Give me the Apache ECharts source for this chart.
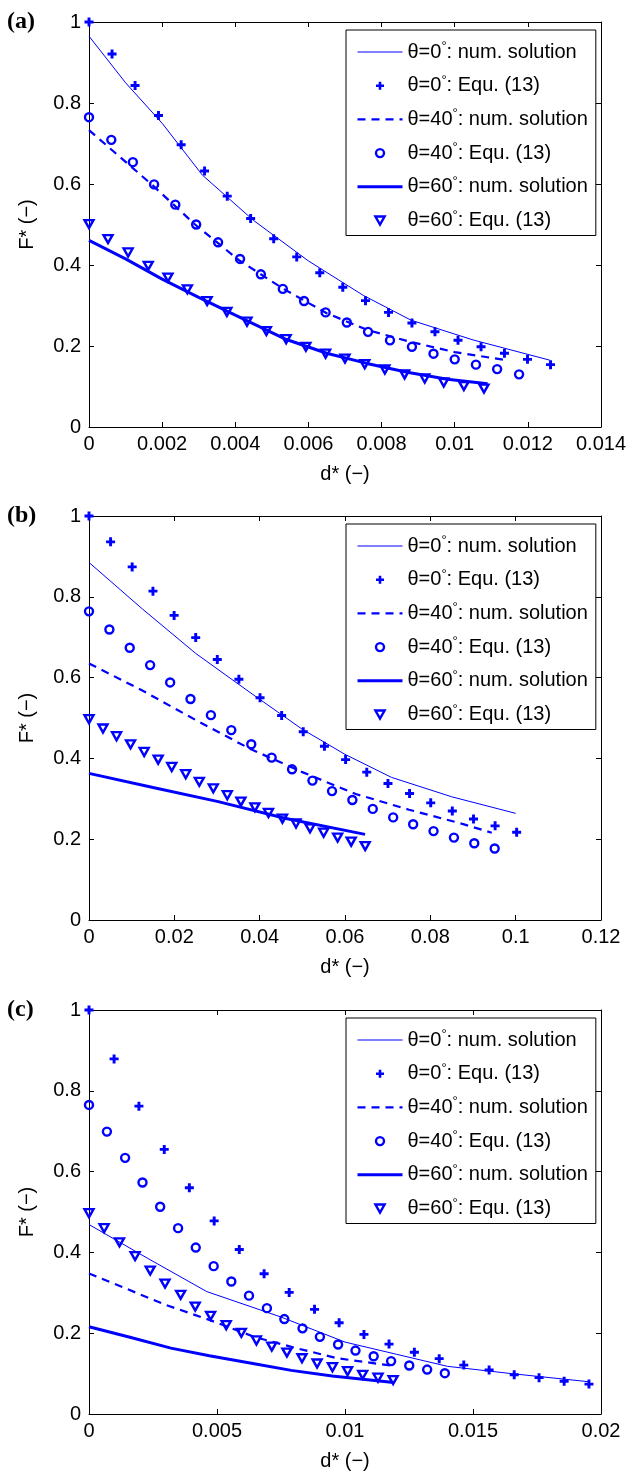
<!DOCTYPE html>
<html>
<head>
<meta charset="utf-8">
<script src="https://cdn.jsdelivr.net/npm/echarts@6/dist/echarts.min.js"></script>
<style>
  html, body { margin: 0; padding: 0; background: #fff; }
  #chart { width: 628px; height: 1475px; }
</style>
</head>
<body>
<div id="chart"></div>
<script>
// ---- tick labels ----
const xTicksA = ['0', '0.002', '0.004', '0.006', '0.008', '0.01', '0.012', '0.014'];
const xTicksB = ['0', '0.02', '0.04', '0.06', '0.08', '0.1', '0.12'];
const xTicksC = ['0', '0.005', '0.01', '0.015', '0.02'];
const yTicks = ['0', '0.2', '0.4', '0.6', '0.8', '1'];

// ---- legend entries ----
const seriesNames = [
  'θ=0°: num. solution', 'θ=0°: Equ. (13)',
  'θ=40°: num. solution', 'θ=40°: Equ. (13)',
  'θ=60°: num. solution', 'θ=60°: Equ. (13)'
];

// ---- panel (a) ----
const aNum0D = [0, 0.001, 0.002, 0.0031, 0.0045, 0.006, 0.0075, 0.0088, 0.0105, 0.0126];
const aNum0F = [0.965, 0.85, 0.75, 0.622, 0.51, 0.41, 0.325, 0.264, 0.215, 0.165];
const aEq0D = [0, 0.00063, 0.00126, 0.0019, 0.00252, 0.00316, 0.00378, 0.00442, 0.00505, 0.00568, 0.00631, 0.00694, 0.00756, 0.00819, 0.00883, 0.00946, 0.01009, 0.01072, 0.01136, 0.01199, 0.01262];
const aEq0F = [1.0, 0.921, 0.843, 0.769, 0.697, 0.632, 0.570, 0.515, 0.465, 0.420, 0.381, 0.345, 0.312, 0.283, 0.257, 0.235, 0.214, 0.198, 0.182, 0.167, 0.154];
const aNum40D = [0, 0.0017, 0.0029, 0.0041, 0.0053, 0.0065, 0.0076, 0.0088, 0.01, 0.0114];
const aNum40F = [0.733, 0.6, 0.5, 0.412, 0.342, 0.281, 0.24, 0.21, 0.185, 0.165];
const aEq40D = [0, 0.00061, 0.0012, 0.00178, 0.00236, 0.00293, 0.00353, 0.00413, 0.0047, 0.0053, 0.00588, 0.00647, 0.00705, 0.00763, 0.00823, 0.00883, 0.00942, 0.01, 0.01058, 0.01116, 0.01176];
const aEq40F = [0.765, 0.709, 0.654, 0.599, 0.549, 0.500, 0.456, 0.415, 0.377, 0.341, 0.311, 0.283, 0.258, 0.235, 0.214, 0.198, 0.181, 0.167, 0.154, 0.143, 0.130];
const aNum60D = [0, 0.001, 0.002, 0.003, 0.004, 0.0054, 0.0065, 0.0076, 0.0087, 0.0098, 0.0109];
const aNum60F = [0.461, 0.415, 0.365, 0.32, 0.276, 0.216, 0.182, 0.157, 0.135, 0.118, 0.107];
const aEq60D = [0, 0.00052, 0.00107, 0.00162, 0.00216, 0.00269, 0.00323, 0.00377, 0.00432, 0.00485, 0.00539, 0.00593, 0.00647, 0.007, 0.00754, 0.00809, 0.00863, 0.00918, 0.0097, 0.01025, 0.0108];
const aEq60F = [0.501, 0.464, 0.431, 0.398, 0.369, 0.340, 0.311, 0.284, 0.260, 0.237, 0.217, 0.198, 0.181, 0.169, 0.155, 0.142, 0.130, 0.120, 0.110, 0.101, 0.095];

// ---- panel (b) ----
const bNum0D = [0, 0.0125, 0.025, 0.0375, 0.05, 0.06, 0.0709, 0.085, 0.1];
const bNum0F = [0.885, 0.77, 0.66, 0.565, 0.472, 0.41, 0.353, 0.305, 0.264];
const bEq0D = [0, 0.00506, 0.01012, 0.01499, 0.01995, 0.02501, 0.03007, 0.03513, 0.04009, 0.04515, 0.05021, 0.05518, 0.06014, 0.0651, 0.07007, 0.07513, 0.08009, 0.08515, 0.09012, 0.09518, 0.10023];
const bEq0F = [1.0, 0.936, 0.874, 0.814, 0.754, 0.699, 0.645, 0.596, 0.550, 0.506, 0.466, 0.430, 0.397, 0.366, 0.338, 0.313, 0.290, 0.270, 0.250, 0.233, 0.217];
const bNum40D = [0, 0.0125, 0.025, 0.0375, 0.05, 0.0625, 0.075, 0.0875, 0.0944];
const bNum40F = [0.635, 0.568, 0.495, 0.425, 0.366, 0.312, 0.273, 0.238, 0.216];
const bEq40D = [0, 0.00478, 0.00955, 0.01433, 0.01902, 0.02379, 0.02857, 0.03335, 0.03803, 0.04281, 0.04759, 0.05237, 0.05696, 0.06173, 0.06651, 0.07129, 0.07597, 0.08075, 0.08553, 0.0903, 0.09508];
const bEq40F = [0.764, 0.719, 0.674, 0.631, 0.588, 0.547, 0.507, 0.470, 0.435, 0.402, 0.373, 0.345, 0.319, 0.297, 0.275, 0.254, 0.237, 0.220, 0.204, 0.190, 0.177];
const bNum60D = [0, 0.015, 0.0303, 0.0459, 0.0647];
const bNum60F = [0.363, 0.328, 0.293, 0.252, 0.212];
const bEq60D = [0, 0.00328, 0.00646, 0.00974, 0.01293, 0.01621, 0.01939, 0.02267, 0.02585, 0.02913, 0.03241, 0.0356, 0.03888, 0.04206, 0.04534, 0.04852, 0.0518, 0.05499, 0.05827, 0.06145, 0.06473];
const bEq60F = [0.497, 0.474, 0.455, 0.435, 0.416, 0.397, 0.379, 0.361, 0.342, 0.326, 0.309, 0.293, 0.279, 0.265, 0.251, 0.239, 0.227, 0.216, 0.204, 0.194, 0.183];

// ---- panel (c) ----
const cNum0D = [0, 0.0023, 0.0046, 0.0075, 0.01, 0.012, 0.014, 0.0165, 0.0195];
const cNum0F = [0.469, 0.385, 0.303, 0.24, 0.178, 0.148, 0.118, 0.1, 0.08];
const cEq0D = [0, 0.00098, 0.00195, 0.00294, 0.00392, 0.00489, 0.00587, 0.00684, 0.00782, 0.00881, 0.00977, 0.01074, 0.01172, 0.01271, 0.01368, 0.01464, 0.01563, 0.01661, 0.01758, 0.01856, 0.01953];
const cEq0F = [1.0, 0.879, 0.762, 0.655, 0.560, 0.478, 0.407, 0.347, 0.301, 0.259, 0.226, 0.197, 0.173, 0.153, 0.137, 0.121, 0.109, 0.097, 0.090, 0.081, 0.074];
const cNum40D = [0, 0.003, 0.0047, 0.0065, 0.0081, 0.0097, 0.0119];
const cNum40F = [0.348, 0.27, 0.233, 0.19, 0.163, 0.138, 0.119];
const cEq40D = [0, 0.0007, 0.00141, 0.00209, 0.00278, 0.00348, 0.00417, 0.00487, 0.00556, 0.00625, 0.00695, 0.00763, 0.00834, 0.00902, 0.00973, 0.01041, 0.01112, 0.0118, 0.01251, 0.01321, 0.0139];
const cEq40F = [0.765, 0.699, 0.634, 0.573, 0.513, 0.460, 0.412, 0.366, 0.328, 0.293, 0.262, 0.235, 0.212, 0.191, 0.172, 0.157, 0.143, 0.131, 0.120, 0.110, 0.101];
const cNum60D = [0, 0.0016, 0.0032, 0.0047, 0.0064, 0.0079, 0.0095, 0.0119];
const cNum60F = [0.216, 0.19, 0.163, 0.144, 0.125, 0.108, 0.094, 0.078];
const cEq60D = [0, 0.00059, 0.00119, 0.0018, 0.00239, 0.00297, 0.00358, 0.00415, 0.00475, 0.00536, 0.00595, 0.00654, 0.00714, 0.00773, 0.00832, 0.00891, 0.00951, 0.0101, 0.01069, 0.01129, 0.01188];
const cEq60F = [0.497, 0.460, 0.425, 0.391, 0.355, 0.323, 0.295, 0.266, 0.243, 0.220, 0.201, 0.182, 0.167, 0.152, 0.138, 0.125, 0.116, 0.106, 0.097, 0.090, 0.084];

// ---- drawing ----
const BLUE = '#0000ff';
const FONT = '"Liberation Sans", Arial, Helvetica, sans-serif';
const PLUS = 'path://M2.7,0H5.3V2.7H8V5.3H5.3V8H2.7V5.3H0V2.7H2.7Z';
const TRI_DOWN = 'path://M0,0L10,0L5,8.7Z';
const HOLLOW = 'rgba(0,0,255,0)';

const panels = [
  { label: '(a)', xTicks: xTicksA, top: 22, height: 405,
    num: [[aNum0D, aNum0F], [aNum40D, aNum40F], [aNum60D, aNum60F]],
    eq: [[aEq0D, aEq0F], [aEq40D, aEq40F], [aEq60D, aEq60F]] },
  { label: '(b)', xTicks: xTicksB, top: 516, height: 404,
    num: [[bNum0D, bNum0F], [bNum40D, bNum40F], [bNum60D, bNum60F]],
    eq: [[bEq0D, bEq0F], [bEq40D, bEq40F], [bEq60D, bEq60F]] },
  { label: '(c)', xTicks: xTicksC, top: 1010, height: 404,
    num: [[cNum0D, cNum0F], [cNum40D, cNum40F], [cNum60D, cNum60F]],
    eq: [[cEq0D, cEq0F], [cEq40D, cEq40F], [cEq60D, cEq60F]] }
];

const lineStyles = [
  { color: BLUE, width: 1, type: 'solid', opacity: 1 },
  { color: BLUE, width: 2.2, type: [8, 6], opacity: 1 },
  { color: BLUE, width: 3, type: 'solid', opacity: 1 }
];
const markerStyles = [
  { symbol: PLUS, symbolSize: 9, itemStyle: { color: BLUE, borderWidth: 0, opacity: 1 } },
  { symbol: 'circle', symbolSize: 8, itemStyle: { color: HOLLOW, borderColor: BLUE, borderWidth: 2.4, opacity: 1 } },
  { symbol: TRI_DOWN, symbolSize: [9, 8], itemStyle: { color: HOLLOW, borderColor: BLUE, borderWidth: 2.4, opacity: 1 } }
];

const zip = (xs, ys) => xs.map((x, i) => [x, ys[i]]);
const tickFormatter = labels => {
  const step = Number(labels[1]);
  return v => labels[Math.round(v / step)] ?? '';
};

const grids = [], xAxes = [], yAxes = [], series = [], legends = [], graphics = [];

const baseAxis = (labels, show) => ({
  type: 'value',
  min: 0,
  max: Number(labels[labels.length - 1]),
  interval: Number(labels[1]),
  axisLine: { show: true, onZero: false, lineStyle: { color: '#000', width: 1 } },
  axisTick: { show: true, inside: true, length: 5, lineStyle: { color: '#000', width: 1 } },
  splitLine: { show: false },
  axisLabel: {
    show: show, color: '#000', fontFamily: FONT, fontSize: 20,
    formatter: tickFormatter(labels), showMinLabel: true, showMaxLabel: true
  }
});

// line entries in the legend show only the stroke sample
const noDot = { color: HOLLOW, borderWidth: 0, opacity: 0 };

panels.forEach((p, i) => {
  grids.push({ left: 89, width: 512, top: p.top, height: p.height, containLabel: false, outerBoundsMode: 'none' });

  xAxes.push(Object.assign(baseAxis(p.xTicks, true), {
    gridIndex: i, position: 'bottom',
    name: 'd* (−)', nameLocation: 'middle', nameGap: 37,
    nameTextStyle: { color: '#000', fontFamily: FONT, fontSize: 20 }
  }));
  xAxes[xAxes.length - 1].axisLabel.margin = 7;
  xAxes.push(Object.assign(baseAxis(p.xTicks, false), { gridIndex: i, position: 'top' }));

  yAxes.push(Object.assign(baseAxis(yTicks, true), {
    gridIndex: i, position: 'left',
    name: 'F* (−)', nameLocation: 'middle', nameGap: 52, nameRotate: 90,
    nameTextStyle: { color: '#000', fontFamily: FONT, fontSize: 20 }
  }));
  yAxes[yAxes.length - 1].axisLabel.margin = 8;
  yAxes.push(Object.assign(baseAxis(yTicks, false), { gridIndex: i, position: 'right' }));

  for (let k = 0; k < 3; k++) {
    series.push({
      name: seriesNames[2 * k], type: 'line',
      xAxisIndex: 2 * i, yAxisIndex: 2 * i,
      data: zip(p.num[k][0], p.num[k][1]),
      symbol: 'none', showSymbol: false, smooth: false, z: 2,
      lineStyle: lineStyles[k], itemStyle: { color: BLUE }
    });
    series.push(Object.assign({
      name: seriesNames[2 * k + 1], type: 'scatter',
      xAxisIndex: 2 * i, yAxisIndex: 2 * i,
      data: zip(p.eq[k][0], p.eq[k][1]), z: 3
    }, JSON.parse(JSON.stringify(markerStyles[k]))));
  }

  legends.push({
    orient: 'vertical', left: 346, top: p.top + 8,
    backgroundColor: '#fff', borderColor: '#000', borderWidth: 1,
    padding: [10, 8, 3, 10], itemGap: 9.7, itemWidth: 45, itemHeight: 8,
    selectedMode: false,
    textStyle: {
      color: '#000', fontFamily: FONT, fontSize: 20, lineHeight: 24,
      rich: { s: { fontFamily: FONT, fontSize: 13, lineHeight: 7, verticalAlign: 'top', color: '#000' } }
    },
    formatter: name => name.replace('°', '{s|°}'),
    data: [
      { name: seriesNames[0], itemStyle: noDot, lineStyle: { color: BLUE, width: 1, type: 'solid', opacity: 1 } },
      { name: seriesNames[1], icon: PLUS, itemStyle: { color: BLUE, borderWidth: 0, opacity: 1 } },
      { name: seriesNames[2], itemStyle: noDot, lineStyle: { color: BLUE, width: 2.2, type: [8, 6], opacity: 1 } },
      { name: seriesNames[3], icon: 'circle', itemStyle: { color: HOLLOW, borderColor: BLUE, borderWidth: 2.4, opacity: 1 } },
      { name: seriesNames[4], itemStyle: noDot, lineStyle: { color: BLUE, width: 3, type: 'solid', opacity: 1 } },
      { name: seriesNames[5], icon: TRI_DOWN, itemStyle: { color: HOLLOW, borderColor: BLUE, borderWidth: 2.4, opacity: 1 } }
    ]
  });

  graphics.push({
    type: 'text', left: 7, top: p.top - 12,
    style: { text: p.label, font: 'bold 24px "Liberation Serif", "Times New Roman", serif', fill: '#000' }
  });
});

const chart = echarts.init(document.getElementById('chart'), null, { renderer: 'canvas' });
chart.setOption({
  animation: false,
  backgroundColor: '#fff',
  grid: grids,
  xAxis: xAxes,
  yAxis: yAxes,
  legend: legends,
  graphic: graphics,
  series: series
});
</script>
</body>
</html>
